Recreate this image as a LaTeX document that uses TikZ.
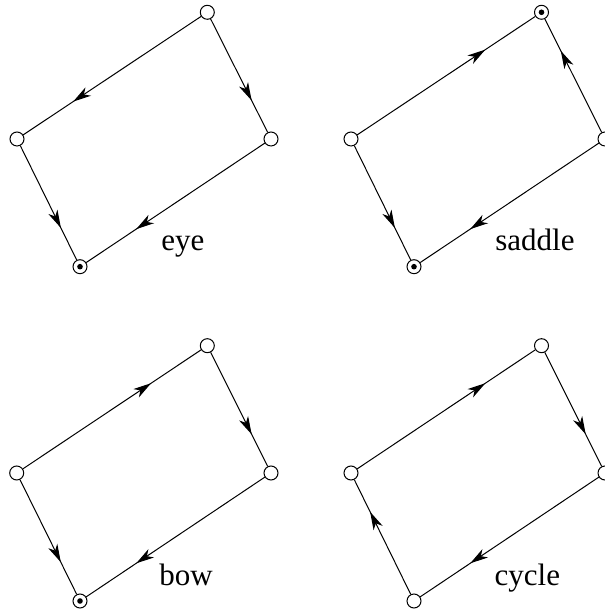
\documentclass[tikz,border=0pt]{standalone}
\usepackage{fontspec}
\setmainfont{Liberation Serif}
\usetikzlibrary{arrows.meta,decorations.markings}

\tikzset{
  vtx/.style={circle, draw, fill=white, line width=0.5pt, minimum size=7pt, inner sep=0pt},
  dot/.style={circle, fill=black, minimum size=2.8pt, inner sep=0pt},
  flow/.style={line width=0.5pt, postaction={decorate},
    decoration={markings, mark=at position 0.72 with {\arrow[line width=0.5pt]{Stealth[length=9pt,width=5pt,inset=2.6pt]}}}},
  lbl/.style={anchor=base west, inner sep=0pt, font=\fontsize{15.5pt}{18pt}\selectfont}
}

\begin{document}
\begin{tikzpicture}[x=0.5pt,y=0.5pt]
\useasboundingbox (0,0) rectangle (604,609);

% ===== eye =====
\node[vtx] (e-t) at (207.3,596.7) {};
\node[vtx] (e-l) at (17,470) {};
\node[vtx] (e-r) at (271,470) {};
\node[vtx] (e-b) at (80,342.3) {};
\node[dot] (e-bd) at (e-b) {};
\draw[flow] (e-t) -- (e-l);
\draw[flow] (e-t) -- (e-r);
\draw[flow] (e-l) -- (e-b);
\draw[flow] (e-r) -- (e-b);
\node[lbl] (e-lbl) at (161,358.3) {eye};

% ===== saddle =====
\node[vtx] (s-t) at (541.5,596.7) {};
\node[vtx] (s-l) at (351,470) {};
\node[vtx] (s-r) at (605,470) {};
\node[vtx] (s-b) at (414,342.3) {};
\node[dot] (s-td) at (s-t) {};
\node[dot] (s-bd) at (s-b) {};
\draw[flow] (s-l) -- (s-t);
\draw[flow] (s-r) -- (s-t);
\draw[flow] (s-l) -- (s-b);
\draw[flow] (s-r) -- (s-b);
\node[lbl] (s-lbl) at (495,358.3) {saddle};

% ===== bow =====
\node[vtx] (w-t) at (207.3,263.3) {};
\node[vtx] (w-l) at (16.7,136) {};
\node[vtx] (w-r) at (271,136) {};
\node[vtx] (w-b) at (80,8) {};
\node[dot] (w-bd) at (w-b) {};
\draw[flow] (w-l) -- (w-t);
\draw[flow] (w-t) -- (w-r);
\draw[flow] (w-l) -- (w-b);
\draw[flow] (w-r) -- (w-b);
\node[lbl] (w-lbl) at (159,24) {bow};

% ===== cycle =====
\node[vtx] (c-t) at (541.5,263.3) {};
\node[vtx] (c-l) at (351,136) {};
\node[vtx] (c-r) at (605,136) {};
\node[vtx] (c-b) at (414,8) {};
\draw[flow] (c-l) -- (c-t);
\draw[flow] (c-t) -- (c-r);
\draw[flow] (c-r) -- (c-b);
\draw[flow] (c-b) -- (c-l);
\node[lbl] (c-lbl) at (494.3,24) {cycle};

\end{tikzpicture}
\end{document}
